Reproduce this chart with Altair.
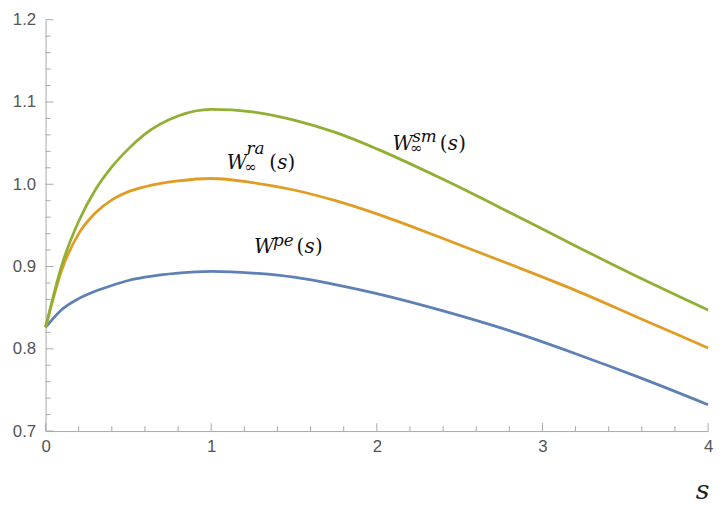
import altair as alt
import pandas as pd

# ---- data ----
s_vals = [0, 0.1, 0.2, 0.3, 0.4, 0.5, 0.6, 0.8, 1.0, 1.25, 1.5, 1.75, 2.0, 2.4, 2.8, 3.2, 3.6, 4.0]
w_pe = [0.826, 0.848, 0.861, 0.870, 0.877, 0.883, 0.887, 0.892, 0.894, 0.892, 0.887, 0.878, 0.867, 0.846, 0.822, 0.794, 0.764, 0.732]
w_ra = [0.826, 0.897, 0.940, 0.965, 0.981, 0.991, 0.997, 1.004, 1.007, 1.002, 0.993, 0.980, 0.964, 0.934, 0.903, 0.871, 0.836, 0.801]
w_sm = [0.826, 0.903, 0.955, 0.993, 1.021, 1.043, 1.061, 1.083, 1.091, 1.088, 1.078, 1.063, 1.043, 1.006, 0.966, 0.925, 0.885, 0.847]

series_names = ["pe", "ra", "sm"]
series_colors = ["#5E81B5", "#E19C24", "#8FB032"]

x_major = [0, 1, 2, 3, 4]
x_minor = [0.2, 0.4, 0.6, 0.8, 1.2, 1.4, 1.6, 1.8, 2.2, 2.4, 2.6, 2.8, 3.2, 3.4, 3.6, 3.8]
y_major = [0.7, 0.8, 0.9, 1.0, 1.1, 1.2]
y_minor = [0.72, 0.74, 0.76, 0.78, 0.82, 0.84, 0.86, 0.88, 0.92, 0.94, 0.96, 0.98,
           1.02, 1.04, 1.06, 1.08, 1.12, 1.14, 1.16, 1.18]

lab_names = ["sm", "ra", "pe"]
lab_s = [2.094, 1.094, 1.259]
lab_v = [1.042, 1.018, 0.917]
lab_sub = ["\u221e", "\u221e", ""]

# ---- build tables ----
n = len(s_vals)
df = pd.DataFrame({
    "s": s_vals * 3,
    "value": w_pe + w_ra + w_sm,
    "series": ["pe"] * n + ["ra"] * n + ["sm"] * n,
})
labels = pd.DataFrame({"name": lab_names, "s": lab_s, "value": lab_v, "sub": lab_sub})

W, H = 670, 416
AX = "#a8a8a8"
x_scale = alt.Scale(domain=[0, 4], nice=False, zero=False)
y_scale = alt.Scale(domain=[0.7, 1.2], nice=False, zero=False)

x_axis = alt.Axis(
    values=x_major, format="d", ticks=False, grid=False, domainColor=AX,
    labelColor="#555555", labelFont="Liberation Sans", labelFontSize=17,
    labelPadding=8, labelFlush=False,
    title="s", titleFont="DejaVu Serif", titleFontStyle="italic",
    titleFontWeight="normal", titleFontSize=27, titleColor="#222222",
    titleX=664, titleY=68, titleAlign="center", titleBaseline="alphabetic")
y_axis = alt.Axis(
    values=y_major, format=".1f", ticks=False, grid=False, domainColor=AX,
    labelColor="#555555", labelFont="Liberation Sans", labelFontSize=17,
    labelPadding=10, labelFlush=False, title=None)

X = lambda: alt.X("s:Q", scale=x_scale, axis=x_axis)
Y = lambda: alt.Y("value:Q", scale=y_scale, axis=y_axis)

lines = alt.Chart(df).mark_line(strokeWidth=2.8, interpolate="monotone").encode(
    x=X(), y=Y(),
    color=alt.Color("series:N", scale=alt.Scale(domain=series_names, range=series_colors), legend=None),
    order="s:Q",
)

def xticks(vals, length):
    return alt.Chart(pd.DataFrame({"s": vals})).mark_rule(color=AX, strokeWidth=1).encode(
        x=X(), y=alt.value(H), y2=alt.value(H - length))

def yticks(vals, length):
    return alt.Chart(pd.DataFrame({"value": vals})).mark_rule(color=AX, strokeWidth=1).encode(
        y=Y(), x=alt.value(0), x2=alt.value(length))

layers = [lines, xticks(x_major, 8), xticks(x_minor, 5), yticks(y_major, 8), yticks(y_minor, 5)]

sup_dx = {"sm": 20, "ra": 20, "pe": 19}
sup_dy = {"sm": -8, "ra": -16, "pe": -7}
par_dx = {"sm": 48, "ra": 43, "pe": 43}

for name in lab_names:
    base = alt.Chart(labels).transform_filter(alt.datum.name == name)
    enc = dict(x=X(), y=Y())
    big = dict(font="DejaVu Serif", fontSize=20, color="#111111", align="left", baseline="alphabetic")
    sup = dict(font="DejaVu Serif", fontSize=17, color="#111111", align="left", baseline="alphabetic")
    sub = dict(font="DejaVu Serif", fontSize=15, color="#111111", align="left", baseline="alphabetic")
    layers.append(base.mark_text(fontStyle="italic", **big).encode(text=alt.value("W"), **enc))
    layers.append(base.mark_text(fontStyle="italic", dx=sup_dx[name], dy=sup_dy[name], **sup)
                  .encode(text="name:N", **enc))
    layers.append(base.mark_text(dx=18, dy=3, **sub).encode(text="sub:N", **enc))
    p = par_dx[name]
    layers.append(base.mark_text(dx=p, **big).encode(text=alt.value("("), **enc))
    layers.append(base.mark_text(fontStyle="italic", dx=p + 8, **big).encode(text=alt.value("s"), **enc))
    layers.append(base.mark_text(dx=p + 18.5, **big).encode(text=alt.value(")"), **enc))

chart = alt.layer(*layers).properties(
    width=W, height=H,
    autosize=alt.AutoSizeParams(type="none"),
    padding={"left": 38, "top": 9, "right": 8, "bottom": 78},
).configure_view(stroke=None)

chart.save("out.html", embed_options={"renderer": "svg", "actions": False})
